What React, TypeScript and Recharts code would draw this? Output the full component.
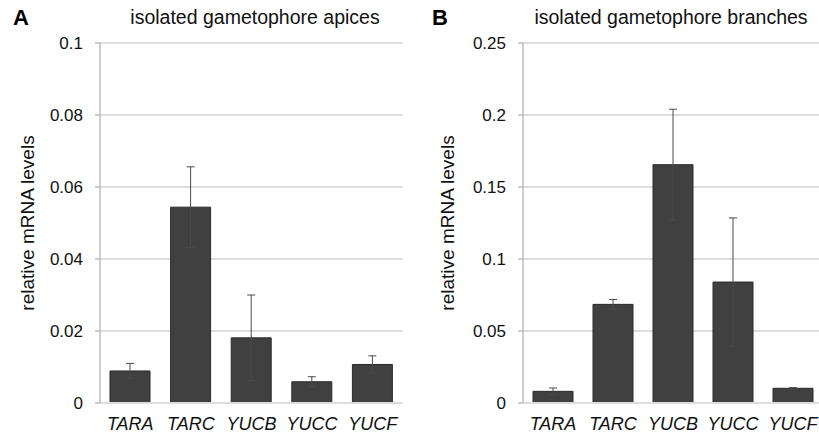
import React from 'react';
import { BarChart, Bar, XAxis, YAxis, CartesianGrid, ErrorBar, Label } from 'recharts';

const genes = ['TARA', 'TARC', 'YUCB', 'YUCC', 'YUCF'];
const apicesValues = [0.0089, 0.0544, 0.0181, 0.0059, 0.0107];
const apicesErrors = [0.0021, 0.0112, 0.0119, 0.0014, 0.0024];
const branchesValues = [0.0081, 0.0685, 0.1655, 0.084, 0.0102];
const branchesErrors = [0.0023, 0.0034, 0.0385, 0.0445, 0.0005];
const apicesTicks = [0, 0.02, 0.04, 0.06, 0.08, 0.1];
const branchesTicks = [0, 0.05, 0.1, 0.15, 0.2, 0.25];

const apicesData = genes.map((g, i) => ({ gene: g, value: apicesValues[i], err: apicesErrors[i] }));
const branchesData = genes.map((g, i) => ({ gene: g, value: branchesValues[i], err: branchesErrors[i] }));

const FONT = '"Liberation Sans", Arial, Helvetica, sans-serif';

function Panel(props: {
  data: any[];
  ticks: number[];
  width: number;
  yWidth: number;
  labelOffset: number;
}) {
  const { data, ticks, width, yWidth, labelOffset } = props;
  return (
    <BarChart
      width={width}
      height={441}
      data={data}
      margin={{ top: 43, right: 0, left: 0, bottom: 8 }}
    >
      <CartesianGrid vertical={false} stroke="#dcdcdc" strokeWidth={2} />
      <XAxis
        dataKey="gene"
        height={30}
        tickLine={false}
        axisLine={{ stroke: '#dcdcdc', strokeWidth: 2 }}
        tick={{ fill: '#111', fontSize: 18, fontStyle: 'italic', fontFamily: FONT }}
        tickMargin={8}
        interval={0}
      />
      <YAxis
        width={yWidth}
        domain={[0, ticks[ticks.length - 1]]}
        ticks={ticks}
        interval={0}
        axisLine={{ stroke: '#bdbdbd', strokeWidth: 1.5 }}
        tickLine={{ stroke: '#bdbdbd', strokeWidth: 1.5 }}
        tickSize={5}
        tickMargin={12}
        tick={{ fill: '#111', fontSize: 17, fontFamily: FONT }}
      >
        <Label
          value="relative mRNA levels"
          angle={-90}
          position="insideLeft"
          offset={labelOffset}
          style={{ textAnchor: 'middle', fontSize: 19, fill: '#111', fontFamily: FONT }}
        />
      </YAxis>
      <Bar dataKey="value" fill="#404040" stroke="#2b2b2b" strokeWidth={1} barSize={40} isAnimationActive={false}>
        <ErrorBar dataKey="err" stroke="#4a4a4a" strokeWidth={1} width={4} />
      </Bar>
    </BarChart>
  );
}

export default function App() {
  return (
    <div style={{ position: 'fixed', left: 0, top: 0, width: 819, height: 441, overflow: 'hidden', background: '#fff', fontFamily: FONT }}>
      <div style={{ position: 'absolute', left: 13, top: 5, fontSize: 22, fontWeight: 'bold', color: '#000' }}>A</div>
      <div style={{ position: 'absolute', left: 100, width: 310, top: 6, textAlign: 'center', fontSize: 19.5, color: '#111' }}>
        isolated gametophore apices
      </div>
      <div style={{ position: 'absolute', left: 432, top: 5, fontSize: 22, fontWeight: 'bold', color: '#000' }}>B</div>
      <div style={{ position: 'absolute', left: 523, width: 296, top: 6, textAlign: 'center', fontSize: 19.5, color: '#111' }}>
        isolated gametophore branches
      </div>
      <div style={{ position: 'absolute', left: 0, top: 0 }}>
        <Panel data={apicesData} ticks={apicesTicks} width={403} yWidth={100} labelOffset={27} />
      </div>
      <div style={{ position: 'absolute', left: 410, top: 0 }}>
        <Panel data={branchesData} ticks={branchesTicks} width={413} yWidth={113} labelOffset={37} />
      </div>
    </div>
  );
}
